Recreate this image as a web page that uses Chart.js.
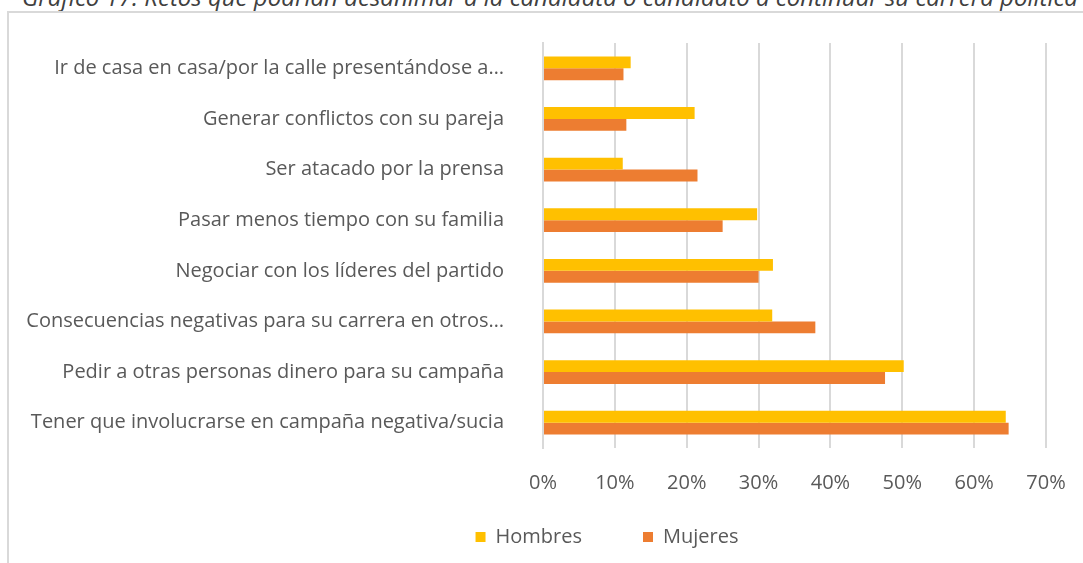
<!DOCTYPE html>
<html>
<head>
<meta charset="utf-8">
<script src="https://cdn.jsdelivr.net/npm/chart.js@4.4.0/dist/chart.umd.min.js"></script>
<style>
    html, body { margin: 0; padding: 0; background: #fff; overflow: hidden; }
    body { width: 1083px; height: 563px; position: relative; }
    #title {
        position: absolute; left: 22px; top: -15px; white-space: nowrap;
        font-family: 'Open Sans', sans-serif; font-style: italic; font-size: 24px;
        line-height: 24px; color: #404040;
    }
    #frame {
        position: absolute; left: 7px; top: 11px; width: 1300px; height: 700px;
        border: 2px solid #d9d9d9; box-sizing: border-box;
    }
    #wrap { position: absolute; left: 0; top: 0; width: 1224px; height: 563px; }
</style>
</head>
<body>
<div id="title">Gráfico 17: Retos que podrían desanimar a la candidata o candidato a continuar su carrera política</div>
<div id="frame"></div>
<div id="wrap"><canvas id="chart"></canvas></div>
<script>
const categories = [
    'Ir de casa en casa/por la calle presentándose a…',
    'Generar conflictos con su pareja',
    'Ser atacado por la prensa',
    'Pasar menos tiempo con su familia',
    'Negociar con los líderes del partido',
    'Consecuencias negativas para su carrera en otros…',
    'Pedir a otras personas dinero para su campaña',
    'Tener que involucrarse en campaña negativa/sucia'
];
const hombres = [12.2, 21.1, 11.1, 29.8, 32.0, 31.9, 50.2, 64.4];
const mujeres = [11.2, 11.6, 21.5, 25.0, 30.0, 37.9, 47.6, 64.8];
const xTicks = [0, 10, 20, 30, 40, 50, 60, 70];

const textColor = '#595959';
const gridColor = '#d9d9d9';
const fontFamily = "'Open Sans'";
const fontSize = 20;

// the legend is centred on the whole frame, not on the plot, so slide it right
const legendShift = {
    id: 'legendShift',
    afterLayout(chart) {
        chart.legend.left += 84;
        chart.legend.right += 84;
    },
};

const ctx = document.getElementById('chart').getContext('2d');
new Chart(ctx, {
    type: 'bar',
    data: {
        labels: categories,
        datasets: [{
            label: 'Hombres',
            data: hombres,
            backgroundColor: '#FFC000',
            categoryPercentage: 0.47,
            barPercentage: 1.0,
        }, {
            label: 'Mujeres',
            data: mujeres,
            backgroundColor: '#ED7D31',
            categoryPercentage: 0.47,
            barPercentage: 1.0,
        }],
    },
    options: {
        indexAxis: 'y',
        responsive: true,
        maintainAspectRatio: false,
        animation: false,
        layout: {
            padding: { left: 0, right: 178, top: 15, bottom: 6 },
        },
        scales: {
            x: {
                min: 0,
                max: 70,
                afterBuildTicks: scale => {
                    scale.ticks = xTicks.map(v => ({ value: v }));
                },
                afterFit: scale => { scale.height = 48; },
                grid: { color: gridColor, lineWidth: 2, drawTicks: false },
                border: { display: false },
                ticks: {
                    color: textColor,
                    padding: 23,
                    font: { family: fontFamily, size: fontSize },
                    callback: v => v + '%',
                },
            },
            y: {
                afterFit: scale => { scale.width = 543; },
                grid: { display: false },
                border: { display: true, color: gridColor, width: 2 },
                ticks: {
                    color: textColor,
                    padding: 31,
                    font: { family: fontFamily, size: fontSize },
                },
            },
        },
        plugins: {
            legend: {
                position: 'bottom',
                labels: {
                    color: textColor,
                    boxWidth: 10,
                    boxHeight: 10,
                    padding: 31,
                    font: { family: fontFamily, size: fontSize },
                    // extra gap after the first entry, as in the original
                    generateLabels: chart => {
                        const items = Chart.defaults.plugins.legend.labels.generateLabels(chart);
                        items[0].text += '\u2002\u2002\u2002';
                        return items;
                    },
                },
            },
            tooltip: { enabled: false },
        },
    },
    plugins: [legendShift],
});
</script>
</body>
</html>
